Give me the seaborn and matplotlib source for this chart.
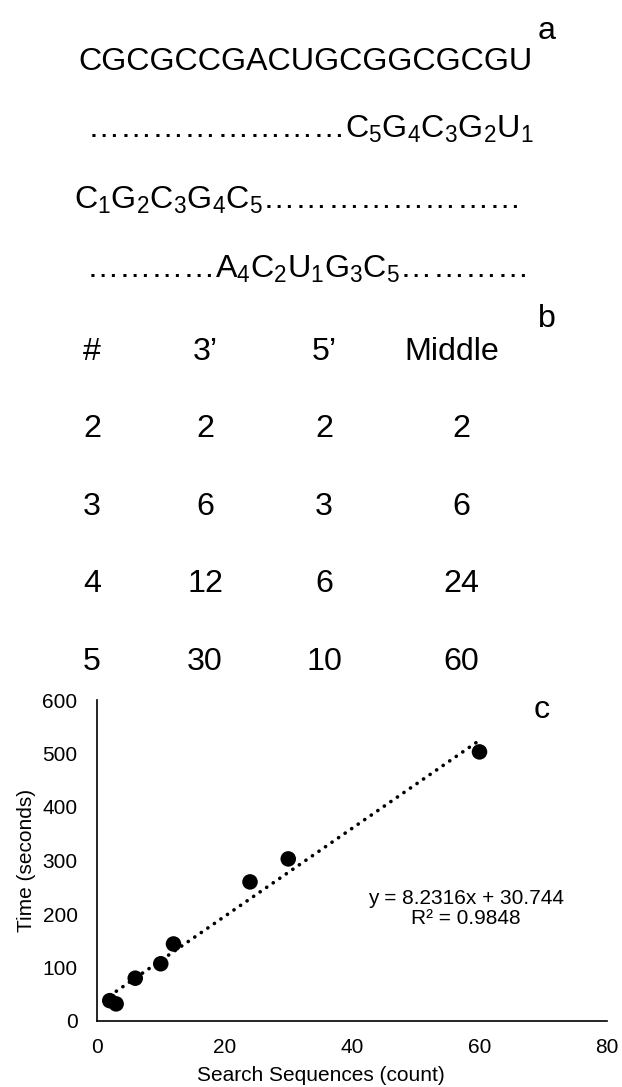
import numpy as np
import pandas as pd
import matplotlib
matplotlib.use("Agg")
import matplotlib.pyplot as plt
import seaborn as sns

# ---------------- data ----------------
sequence = "CGCGCCGACUGCGGCGCGU"
motif_3p = r"$\mathregular{C_5G_4C_3G_2U_1}$"
motif_5p = r"$\mathregular{C_1G_2C_3G_4C_5}$"
motif_mid = r"$\mathregular{A_4C_2U_1G_3C_5}$"

table_header = ["#", "3\u2019", "5\u2019", "Middle"]
table_n = [2, 3, 4, 5]
table_3p = [2, 6, 12, 30]
table_5p = [2, 3, 6, 10]
table_mid = [2, 6, 24, 60]

search_counts = [2, 3, 6, 10, 12, 24, 30, 60]
times_s = [38, 32, 80, 107, 144, 260, 303, 503]
slope = 8.2316
intercept = 30.744
r_squared = 0.9848

x_ticks = [0, 20, 40, 60, 80]
y_ticks = [0, 100, 200, 300, 400, 500, 600]

# ---------------- style ----------------
sns.set_theme(style="white")
plt.rcParams["font.family"] = ["Liberation Sans", "DejaVu Sans"]
plt.rcParams["mathtext.fontset"] = "custom"
plt.rcParams["mathtext.rm"] = "Liberation Sans"
plt.rcParams["text.color"] = "black"
plt.rcParams["axes.labelcolor"] = "black"
plt.rcParams["xtick.color"] = "black"
plt.rcParams["ytick.color"] = "black"

W, H = 622, 1087
fig = plt.figure(figsize=(W / 100, H / 100), dpi=100)
fig.patch.set_facecolor("white")


def fx(px):
    return px / W


def fy(px):
    return 1 - px / H


BIG = 23.2
ell = "\u2026"

# ---------------- panel a ----------------
fig.text(fx(306), fy(70), sequence, fontsize=BIG, ha="center", va="baseline", color="black")
fig.text(fx(547), fy(39), "a", fontsize=BIG, ha="center", va="baseline", color="black")
fig.text(fx(534), fy(138), ell * 8 + motif_3p, fontsize=BIG, ha="right", va="baseline", color="black")
fig.text(fx(296), fy(209), motif_5p + ell * 8, fontsize=BIG, ha="center", va="baseline", color="black")
fig.text(fx(306), fy(278), ell * 4 + motif_mid + ell * 4, fontsize=BIG, ha="center", va="baseline", color="black")

# ---------------- panel b ----------------
fig.text(fx(547), fy(327), "b", fontsize=BIG, ha="center", va="baseline", color="black")
header_x = [92, 205, 324, 452]
col_x = [92, 205, 324, 461]
row_base = [437, 515, 592, 670]
for hx, h in zip(header_x, table_header):
    fig.text(fx(hx), fy(360), h, fontsize=BIG, ha="center", va="baseline", color="black")
for i, row in enumerate(zip(table_n, table_3p, table_5p, table_mid)):
    for cx, v in zip(col_x, row):
        fig.text(fx(cx), fy(row_base[i]), str(v), fontsize=BIG, ha="center",
                 va="baseline", color="black")

# ---------------- panel c ----------------
ax = fig.add_axes([97 / W, 1 - 1021 / H, 510 / W, 321 / H])
ax.set_facecolor("white")

df = pd.DataFrame({"count": search_counts, "time": times_s})
fit_x = np.array([min(search_counts), max(search_counts)], dtype=float)
fit_df = pd.DataFrame({"count": fit_x, "time": slope * fit_x + intercept})

sns.lineplot(data=fit_df, x="count", y="time", ax=ax, color="black", lw=2.6,
             linestyle=(0, (0.05, 2.15)), dash_capstyle="round", zorder=2)
sns.scatterplot(data=df, x="count", y="time", ax=ax, color="black", s=125,
                edgecolor="none", linewidth=0, zorder=3)

ax.set_xlim(0, 80)
ax.set_ylim(0, 600)
ax.set_xticks(x_ticks)
ax.set_yticks(y_ticks)
sns.despine(ax=ax)
for sp in ["left", "bottom"]:
    ax.spines[sp].set_color("black")
    ax.spines[sp].set_linewidth(1.2)
ax.tick_params(axis="both", length=0, labelsize=15, colors="black")
ax.tick_params(axis="y", pad=14)
ax.tick_params(axis="x", pad=12)

ax.set_xlabel("Search Sequences (count)", fontsize=15, color="black")
ax.set_ylabel("Time (seconds)", fontsize=15, color="black")
ax.xaxis.set_label_coords(0.439, -0.14)
ax.yaxis.set_label_coords(-0.12, 0.5)

ax.text(57.9, 210, f"y = {slope}x + {intercept}\nR\u00b2 = {r_squared}",
        ha="center", va="center", fontsize=15, linespacing=1.1, color="black")

fig.text(fx(542), fy(718), "c", fontsize=BIG, ha="center", va="baseline", color="black")

fig.savefig("out.png", dpi=100, facecolor="white")
